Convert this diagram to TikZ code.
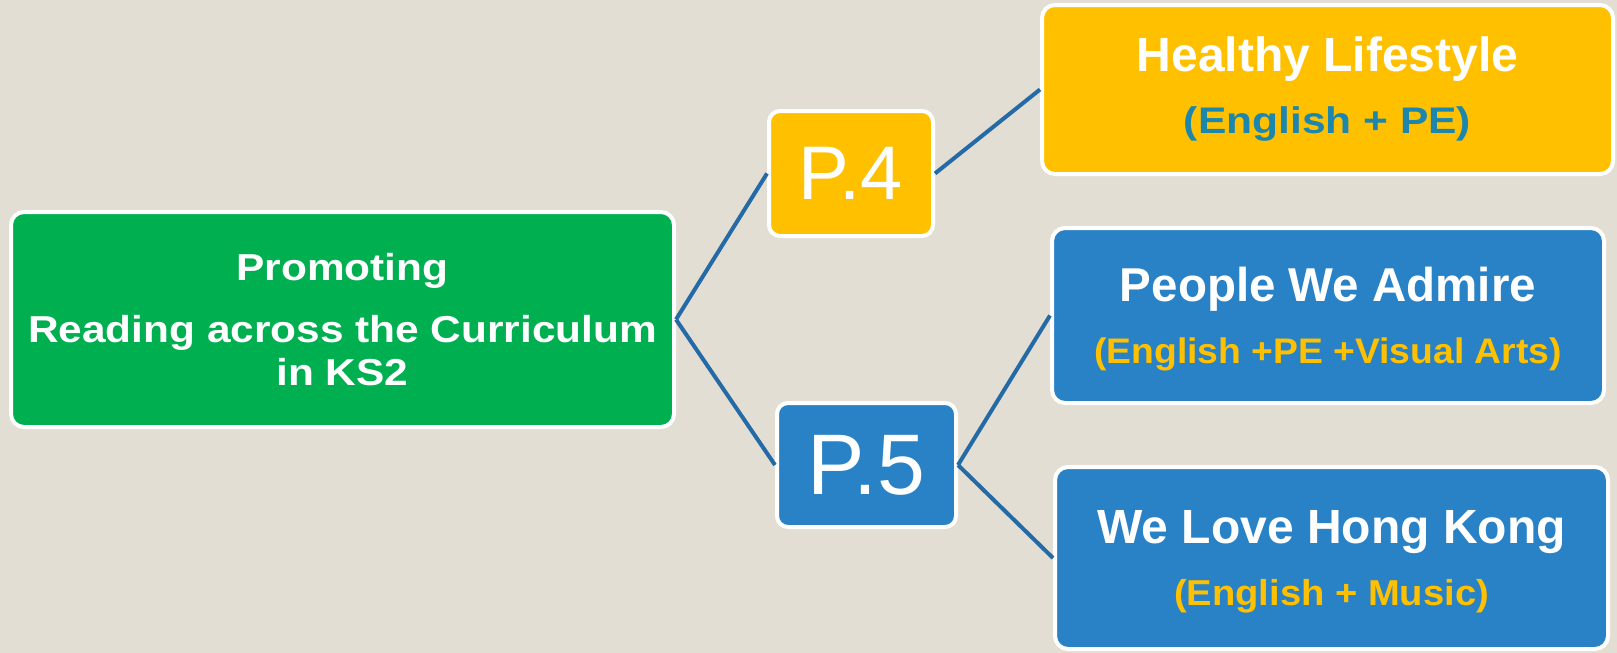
\documentclass[tikz,border=0pt]{standalone}
\usepackage{fontspec}
\setmainfont{Liberation Sans}
\usepackage{tikz}

\definecolor{paper}{RGB}{227,222,211}
\definecolor{leaf}{RGB}{0,176,80}
\definecolor{gold}{RGB}{255,192,0}
\definecolor{sky}{RGB}{41,130,198}
\definecolor{link}{RGB}{36,106,166}
\definecolor{teal}{RGB}{28,134,172}

% wider setting of the bold text
\newcommand{\widen}[1]{\addfontfeature{FakeStretch=#1}}

\begin{document}
\begin{tikzpicture}[x=1pt,y=-1pt,
  box/.style={draw=white, line width=4pt, rounded corners=13pt, inner sep=0pt,
    align=center, text=white},
  big/.style={font=\bfseries\fontsize{47}{62}\selectfont},
  grade/.style={box, rounded corners=11pt, font=\fontsize{76}{80}\selectfont},
  edge/.style={draw=link, line width=4pt}]
\useasboundingbox[fill=paper] (0,0) rectangle (1617,653);

% root of the tree
\node [box, fill=leaf, minimum width=663pt, minimum height=215pt,
  font=\bfseries\fontsize{37.5}{43}\selectfont\widen{1.13}] (root) at (342.5,319.5)
  {Promoting\\[19pt]Reading across the Curriculum\\in KS2};

% the two year groups
\node [grade, fill=gold, minimum width=164pt, minimum height=125pt] (p4) at (851,173.5) {P.4};
\node [grade, fill=sky, minimum width=179pt, minimum height=124pt,
  font=\fontsize{86}{90}\selectfont] (p5) at (866.5,465) {P.5};

% themes
\node [box, big, fill=gold, minimum width=571pt, minimum height=169pt] (healthy) at (1327.5,89.5)
  {\fontsize{48}{64}\selectfont Healthy Lifestyle\\{\fontsize{37}{44}\selectfont\widen{1.15}\color{teal}(English + PE)}};
\node [box, big, fill=sky, minimum width=552pt, minimum height=175pt, text depth=-4pt] (admire) at (1328,315.5)
  {\fontsize{47.5}{60}\selectfont People We Admire\\{\fontsize{35.5}{42}\selectfont\widen{1.05}\color{gold}(English +PE +Visual Arts)}};
\node [box, big, fill=sky, minimum width=553pt, minimum height=182pt, text depth=-4pt] (hongkong) at (1331.5,558)
  {\fontsize{48}{65}\selectfont We Love Hong Kong\\{\fontsize{36}{42}\selectfont\widen{1.06}\color{gold}(English + Music)}};

\draw [edge] (root.east) -- (p4.west);
\draw [edge] (root.east) -- (p5.west);
\draw [edge] (p4.east) -- (healthy.west);
\draw [edge] (p5.east) -- (admire.west);
\draw [edge] (p5.east) -- (hongkong.west);
\end{tikzpicture}
\end{document}
